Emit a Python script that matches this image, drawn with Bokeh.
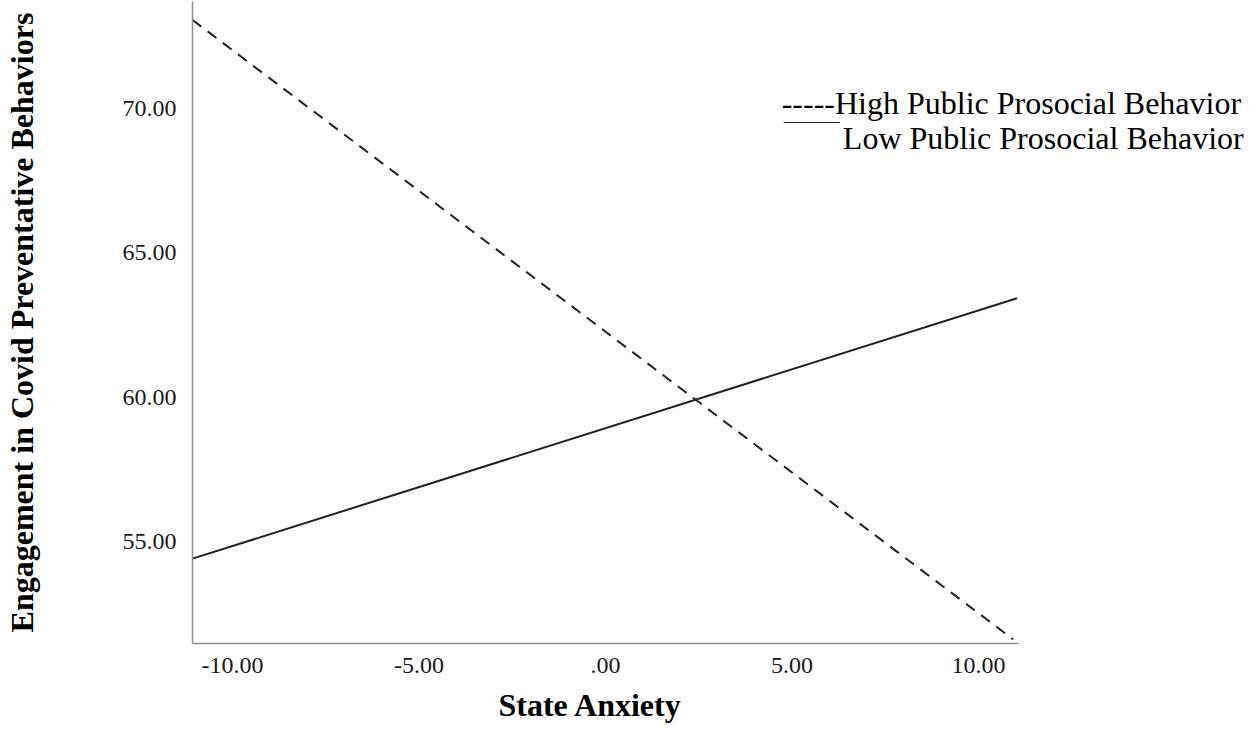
from bokeh.plotting import figure
from bokeh.models import FixedTicker, Label, Arrow, Range1d, Title
from bokeh.embed import file_html
from bokeh.resources import INLINE

# ---- data ----
anxiety_high = [-11.07, 10.93]
engagement_high = [73.07, 51.61]
anxiety_low = [-11.07, 11.03]
engagement_low = [54.41, 63.43]

x_ticks = [-10, -5, 0, 5, 10]
x_tick_labels = ["-10.00", "-5.00", ".00", "5.00", "10.00"]
y_ticks = [55, 60, 65, 70]
y_tick_labels = ["55.00", "60.00", "65.00", "70.00"]

legend_high = "-----High Public Prosocial Behavior"
legend_low = "Low Public Prosocial Behavior"
x_title = "State Anxiety"
y_title = "Engagement in Covid Preventative Behaviors"

# ---- layout ----
X0, X1 = -11.07, 11.07          # extent of the x axis
Y0, Y1 = 51.47, 73.71           # extent of the y axis
FRAME_L, FRAME_T = 186, 9       # page coordinates of the plot area
AXIS_W, FH = 837, 642           # axis length (px) and plot height
W, H = 1244, 731
FW = W - (FRAME_L - 8)          # frame runs to the right edge so the legend is not clipped
X_END = X0 + FW * (X1 - X0) / AXIS_W
SERIF = "Liberation Serif"

p = figure(width=W, height=H, output_backend="svg", toolbar_location=None,
           x_range=Range1d(X0, X_END), y_range=Range1d(Y0, Y1),
           min_border_left=FRAME_L - 8, min_border_top=FRAME_T - 8,
           min_border_right=0, min_border_bottom=H - (FRAME_T - 8) - FH)
p.outline_line_color = None
p.background_fill_color = "white"
p.border_fill_color = "white"
p.grid.visible = False

for ax in (p.xaxis[0], p.yaxis[0]):
    ax.major_tick_line_color = None
    ax.minor_tick_line_color = None
    ax.axis_line_color = "#8f8f8f"
    ax.axis_line_width = 1.5
    ax.major_label_text_font = SERIF
    ax.major_label_text_font_size = "24px"
    ax.major_label_text_color = "#1a1a1a"
    ax.axis_label_text_font = SERIF
    ax.axis_label_text_font_style = "bold"
    ax.axis_label_text_font_size = "32px"
    ax.axis_label_text_color = "black"

p.xaxis.bounds = (X0, X1)
p.xaxis.ticker = FixedTicker(ticks=x_ticks)
p.xaxis.major_label_overrides = dict(zip(x_ticks, x_tick_labels))
p.yaxis.ticker = FixedTicker(ticks=y_ticks)
p.yaxis.major_label_overrides = dict(zip(y_ticks, y_tick_labels))
p.xaxis.major_label_standoff = 8
p.yaxis.major_label_standoff = 10
p.yaxis.axis_label = y_title
p.yaxis.axis_label_standoff = 80

# x-axis title, placed under the axis (offset from the left edge of the plot area)
p.add_layout(Title(text=x_title, align="left", offset=306, vertical_align="bottom",
                   standoff=18, text_font=SERIF, text_font_style="bold",
                   text_font_size="32px", text_color="black"), "below")

p.line(anxiety_high, engagement_high, line_color="#222222", line_width=2, line_dash="11 8")
p.line(anxiety_low, engagement_low, line_color="#222222", line_width=2)


def dx(page_x):
    return X0 + (page_x - FRAME_L) / AXIS_W * (X1 - X0)


def dy(page_y):
    return Y0 + (FRAME_T + FH - page_y) / FH * (Y1 - Y0)


p.add_layout(Label(x=dx(783), y=dy(110), text=legend_high, text_baseline="alphabetic",
                   text_font=SERIF, text_font_size="32px", text_color="black"))
p.add_layout(Label(x=dx(845), y=dy(145), text=legend_low, text_baseline="alphabetic",
                   text_font=SERIF, text_font_size="32px", text_color="black"))
p.add_layout(Arrow(x_start=dx(785), y_start=dy(130), x_end=dx(842), y_end=dy(130),
                   start=None, end=None, line_color="#222222", line_width=1.2))

open("out.html", "w").write(file_html(p, INLINE))
